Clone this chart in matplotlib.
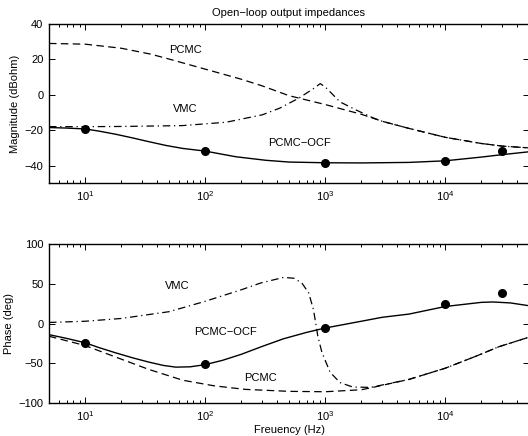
import matplotlib
matplotlib.use("Agg")
import matplotlib.pyplot as plt
from matplotlib.ticker import LogLocator, NullFormatter

plt.rcParams['font.family'] = ['Liberation Sans', 'DejaVu Sans']
plt.rcParams['mathtext.default'] = 'regular'

# ---- Magnitude data (dBohm) ----
f_mag_pcmc = [5, 10, 20, 35, 50, 100, 200, 300, 500, 1000, 2000, 3000, 5000, 10000, 20000, 30000, 50000]
mag_pcmc = [29, 28.6, 26.3, 23.0, 20.2, 14.5, 8.8, 5.0, -0.5, -5.5, -11, -15, -19, -24, -27.5, -29, -30]

f_mag_vmc = [5, 10, 20, 65, 150, 300, 420, 600, 800, 910, 1000, 1330, 1800, 2500, 3000, 5000, 10000, 20000, 30000, 50000]
mag_vmc = [-18, -18, -17.9, -17.4, -15.5, -11.3, -7.5, -2, 3.5, 6.3, 4.5, -4.0, -8.5, -13, -15, -19, -24, -27.5, -29, -30]

f_mag_ocf = [5, 7, 10, 13, 18, 25, 34, 47, 65, 100, 180, 320, 500, 1000, 2000, 5000, 10000, 20000, 30000, 50000]
mag_ocf = [-18.5, -18.8, -19.3, -20.5, -22.3, -24.4, -26.5, -28.6, -30.3, -31.8, -35, -37, -38, -38.4, -38.5, -38.2, -37.3, -35.2, -33.8, -32.2]

f_mag_meas = [10, 100, 1000, 10000, 30000]
mag_meas = [-19.3, -31.8, -38.6, -37.4, -31.7]

# ---- Phase data (deg) ----
f_ph_pcmc = [5, 10, 18, 34, 65, 118, 215, 500, 1000, 2000, 2500, 5000, 10000, 18000, 28000, 50000]
ph_pcmc = [-15.8, -27.5, -42, -57.5, -71, -78, -82.5, -85, -85.5, -83, -80, -70, -56, -41, -29, -17]

f_ph_vmc = [5, 10, 20, 50, 100, 200, 290, 450, 550, 640, 730, 800, 870, 940, 1100, 1330, 1700, 2400, 5000, 10000, 18000, 28000, 50000]
ph_vmc = [1.5, 3, 6.5, 15, 28, 42.5, 51, 58, 57, 51, 38.5, 17.5, -16, -36, -61, -74, -79.6, -80, -70, -56, -41, -29, -17]

f_ph_ocf = [5, 7, 10, 13, 18, 25, 34, 45, 57, 75, 100, 140, 200, 300, 450, 700, 1000, 2000, 3000, 5000, 10000, 20000, 25000, 35000, 50000]
ph_ocf = [-13.8, -18.5, -24, -30, -36.7, -43, -48.3, -52.5, -54.6, -54.2, -51.5, -46, -38.5, -28.5, -19, -11, -5.5, 3, 8, 12, 21.5, 26.7, 27.2, 26, 22.5]

f_ph_meas = [10, 100, 1000, 10000, 30000]
ph_meas = [-24, -51, -5, 25, 38]

FS = 8
fig = plt.figure(figsize=(5.28, 4.36), dpi=100)
ax1 = fig.add_axes([49/528, 0.5796, 480/528, 0.3654])
ax2 = fig.add_axes([49/528, 0.075, 480/528, 0.3654])

lw = 0.9
dash = (0, (6, 3.5))
dashdot = (0, (6, 3, 1, 3))

ax1.semilogx(f_mag_pcmc, mag_pcmc, color='black', lw=lw, linestyle=dash)
ax1.semilogx(f_mag_vmc, mag_vmc, color='black', lw=lw, linestyle=dashdot)
ax1.semilogx(f_mag_ocf, mag_ocf, color='black', lw=1.0, linestyle='-')
ax1.plot(f_mag_meas, mag_meas, 'o', color='black', markersize=5.5)
ax1.set_ylim(-50, 40)
ax1.set_yticks([-40, -20, 0, 20, 40])
ax1.set_ylabel('Magnitude (dBohm)', fontsize=FS, labelpad=3)
ax1.set_title('Open\u2212loop output impedances', fontsize=FS, pad=6)
ax1.text(68, 25.5, 'PCMC', fontsize=FS, ha='center', va='center')
ax1.text(68, -7.8, 'VMC', fontsize=FS, ha='center', va='center')
ax1.text(610, -27.4, 'PCMC\u2212OCF', fontsize=FS, ha='center', va='center')

ax2.semilogx(f_ph_pcmc, ph_pcmc, color='black', lw=lw, linestyle=dash)
ax2.semilogx(f_ph_vmc, ph_vmc, color='black', lw=lw, linestyle=dashdot)
ax2.semilogx(f_ph_ocf, ph_ocf, color='black', lw=1.0, linestyle='-')
ax2.plot(f_ph_meas, ph_meas, 'o', color='black', markersize=5.5)
ax2.set_ylim(-100, 100)
ax2.set_yticks([-100, -50, 0, 50, 100])
ax2.set_ylabel('Phase (deg)', fontsize=FS, labelpad=3)
ax2.set_xlabel('Freuency (Hz)', fontsize=FS, labelpad=2)
ax2.text(58.6, 46.7, 'VMC', fontsize=FS, ha='center', va='center')
ax2.text(147, -10.4, 'PCMC\u2212OCF', fontsize=FS, ha='center', va='center')
ax2.text(289, -68.7, 'PCMC', fontsize=FS, ha='center', va='center')

for ax in (ax1, ax2):
    ax.set_xlim(5, 5e4)
    ax.xaxis.set_major_locator(LogLocator(base=10, numticks=10))
    ax.xaxis.set_minor_locator(LogLocator(base=10, subs=range(2, 10), numticks=10))
    ax.xaxis.set_minor_formatter(NullFormatter())
    ax.tick_params(which='both', direction='in', top=True, right=True, labelsize=FS, width=0.7)
    ax.tick_params(which='major', length=4, pad=4)
    ax.tick_params(which='minor', length=2.5)
    for s in ax.spines.values():
        s.set_linewidth(1.0)

fig.savefig('out.png', dpi=100)
